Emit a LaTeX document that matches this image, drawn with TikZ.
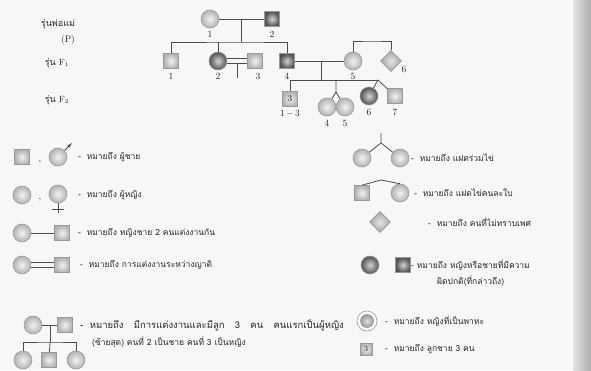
\documentclass[tikz,border=0pt]{standalone}
\usepackage{fontspec}
\newfontfamily\thaifont[Script=Thai]{Loma}
\usepackage{tikz}
\usetikzlibrary{shapes,arrows}
\usetikzlibrary{shapes.geometric}
\usetikzlibrary{calc}
\definecolor{paper}{RGB}{247,247,245}
\tikzstyle{person} = [draw=gray!80, line width=0.6pt, inner sep=0pt]
\tikzstyle{male} = [person, rectangle, minimum size=15pt,
    inner color=gray!10, outer color=gray!60]
\tikzstyle{affmale} = [person, rectangle, minimum size=15pt,
    inner color=gray!35, outer color=black!68]
\tikzstyle{female} = [person, circle, minimum size=18pt,
    inner color=gray!10, outer color=gray!60]
\tikzstyle{afffemale} = [person, circle, minimum size=18pt,
    inner color=gray!35, outer color=black!68]
\tikzstyle{sexunknown} = [person, diamond, minimum size=21pt,
    inner color=gray!20, outer color=gray!70]
\tikzstyle{pedline} = [draw=gray!60!black, line width=0.8pt]
\tikzstyle{num} = [font=\fontsize{9.5}{10}\selectfont, inner sep=0pt, text=black!85]
\tikzstyle{gentext} = [font=\thaifont\fontsize{9}{10}\selectfont, inner sep=0pt, text=black!85]
\tikzstyle{legtext} = [font=\thaifont\fontsize{8.5}{10}\selectfont, inner sep=0pt,
    anchor=west, text=black!85]

\begin{document}
\begin{tikzpicture}[x=1pt, y=-1pt, >=latex']
    % page and scan shadow
    \fill[paper] (0,0) rectangle (591,370);
    \shade[left color=gray!20, right color=gray!65] (573,0) rectangle (591,370);
    \useasboundingbox (0,0) rectangle (591,370);

    % generations
    \node [gentext] (genP) at (58,24) {รุ่นพ่อแม่};
    \node [num] (genPb) at (68,40) {(P)};
    \node [gentext] (genF1) at (57,63) {รุ่น $\mathrm{F}_1$};
    \node [gentext] (genF2) at (57,100) {รุ่น $\mathrm{F}_2$};

    % P
    \node [female] (p1) at (210,19) {};
    \node [affmale] (p2) at (272,19) {};
    \node [num] (p1n) at (210,34) {1};
    \node [num] (p2n) at (272,34) {2};
    \coordinate (pm) at (241,19);
    \coordinate (pdrop) at (241,42);
    \draw [pedline] (p1) -- (p2);
    \draw [pedline] (pm) -- (pdrop);

    % F1
    \node [male] (f1a) at (171,61) {};
    \node [afffemale] (f1b) at (218,61) {};
    \node [male] (f1c) at (255,61) {};
    \node [affmale] (f1d) at (287,61) {};
    \node [female] (f1e) at (353,61) {};
    \node [sexunknown] (f1f) at (391,61) {};
    \node [num] (f1an) at (171,76) {1};
    \node [num] (f1bn) at (218,76) {2};
    \node [num] (f1cn) at (258,76) {3};
    \node [num] (f1dn) at (287,76) {4};
    \node [num] (f1en) at (353,76) {5};
    \node [num] (f1fn) at (404,69) {6};
    \draw [pedline] (f1a) |- (pdrop) -| (f1d);
    \draw [pedline] (f1b) -- (f1b |- pdrop);
    \draw [pedline, double=paper, double distance=3.5pt] (f1b) -- (f1c);
    \coordinate (cm) at (237,63);
    \coordinate (nochild) at (237,78);
    \draw [pedline] (cm) -- (nochild);
    \draw [pedline, double=paper, double distance=1.2pt]
        ($(nochild)+(-10,1)$) -- ($(nochild)+(10,1)$);
    \draw [pedline] (f1d) -- (f1e);
    \coordinate (fm) at (321,61);
    \coordinate (fdrop) at (321,80);
    \draw [pedline] (fm) -- (fdrop);
    \coordinate (sib56) at (372,41);
    \draw [pedline] (f1e) |- (sib56) -| (f1f);

    % F2
    \node [male, font=\fontsize{9}{10}\selectfont] (f2a) at (290,99) {3};
    \node [female] (f2b) at (327,107) {};
    \node [female] (f2c) at (345,107) {};
    \node [afffemale] (f2d) at (369,96) {};
    \node [male] (f2e) at (395,96) {};
    \node [num] (f2an) at (290,114) {1$\,-\,$3};
    \node [num] (f2bn) at (327,123) {4};
    \node [num] (f2cn) at (345,123) {5};
    \node [num] (f2dn) at (369,112) {6};
    \node [num] (f2en) at (395,112) {7};
    \coordinate (mz) at (336,80);
    \coordinate (mzfork) at (336,92);
    \coordinate (dz) at (378,80);
    \draw [pedline] (f2a) |- (dz);
    \draw [pedline] (mz) -- (mzfork) -- (f2b);
    \draw [pedline] (mzfork) -- (f2c);
    \draw [pedline] (f2d) -- (dz) -- (f2e);

    % legend, left
    \node [male] (lm1) at (22,157) {};
    \node [num] (lmc) at (40,162) {,};
    \node [female] (lm2) at (58,157) {};
    \coordinate (lmtip) at (72,143);
    \draw [pedline, ->] (lm2.45) -- (lmtip);
    \node [legtext] (lmt) at (78,157) {-\ \ หมายถึง ผู้ชาย};

    \node [female] (lf1) at (22,195) {};
    \node [num] (lfc) at (40,200) {,};
    \node [female] (lf2) at (58,194) {};
    \coordinate (lfend) at (58,213);
    \draw [pedline] (lf2) -- (lfend);
    \draw [pedline] ($(lfend)+(-6,-4)$) -- ($(lfend)+(6,-4)$);
    \node [legtext] (lft) at (78,195) {-\ \ หมายถึง ผู้หญิง};

    \node [female] (lc1) at (22,233) {};
    \node [male] (lc2) at (62,233) {};
    \draw [pedline] (lc1) -- (lc2);
    \node [legtext] (lct) at (78,233) {-\ \ หมายถึง หญิงชาย 2 คนแต่งงานกัน};

    \node [female] (lk1) at (22,265) {};
    \node [male] (lk2) at (62,265) {};
    \draw [pedline, double=paper, double distance=3.5pt] (lk1) -- (lk2);
    \node [legtext] (lkt) at (80,265) {-\ \ หมายถึง การแต่งงานระหว่างญาติ};

    \node [female] (lo1) at (33,325) {};
    \node [male] (lo2) at (65,325) {};
    \node [female] (lo3) at (23,360) {};
    \node [male] (lo4) at (49,360) {};
    \node [female] (lo5) at (76,360) {};
    \coordinate (lom) at (50,325);
    \coordinate (lodrop) at (50,342);
    \draw [pedline] (lo1) -- (lo2);
    \draw [pedline] (lom) -- (lodrop);
    \draw [pedline] (lo3) |- (lodrop) -| (lo5);
    \draw [pedline] (lo4) -- (lodrop);
    \node [legtext, font=\thaifont\fontsize{9.5}{11}\selectfont] (lot) at (80,325)
        {-\ \ \makebox[254pt][s]{หมายถึง มีการแต่งงานและมีลูก 3 คน คนแรกเป็นผู้หญิง}};
    \node [legtext] (lot2) at (92,342) {(ซ้ายสุด) คนที่ 2 เป็นชาย คนที่ 3 เป็นหญิง};

    % legend, right
    \node [female] (rm1) at (362,158) {};
    \node [female] (rm2) at (400,158) {};
    \coordinate (rmtop) at (381,133);
    \coordinate (rmfork) at (381,143);
    \draw [pedline] (rmtop) -- (rmfork) -- (rm1);
    \draw [pedline] (rmfork) -- (rm2);
    \node [legtext] (rmt) at (411,158) {-\ \ หมายถึง แฝดร่วมไข่};

    \node [male] (rd1) at (362,193) {};
    \node [female] (rd2) at (400,193) {};
    \coordinate (rdfork) at (381,180);
    \draw [pedline] (rd1.north) -- (rdfork) -- (rd2.north);
    \node [legtext] (rdt) at (414,193) {-\ \ หมายถึง แฝดไข่คนละใบ};

    \node [sexunknown] (ru1) at (380,222) {};
    \node [legtext] (rut) at (428,222) {-\ \ หมายถึง คนที่ไม่ทราบเพศ};

    \node [afffemale] (ra1) at (370,265) {};
    \node [affmale] (ra2) at (403,265) {};
    \node [legtext] (rat) at (411,265) {-\ หมายถึง หญิงหรือชายที่มีความ};
    \node [legtext] (rat2) at (437,281) {ผิดปกติ(ที่กล่าวถึง)};

    \node [person, circle, minimum size=20pt, fill=white] (rc1) at (367,321) {};
    \node [person, circle, minimum size=13pt, inner color=gray!25,
        outer color=gray!80] (rc2) at (367,321) {};
    \node [legtext] (rct) at (385,321) {-\ \ หมายถึง หญิงที่เป็นพาหะ};

    \node [male, minimum size=12pt, font=\fontsize{8}{9}\selectfont] (rs1) at (366,349) {3};
    \node [legtext] (rst) at (385,349) {-\ \ หมายถึง ลูกชาย 3 คน};
\end{tikzpicture}
\end{document}
